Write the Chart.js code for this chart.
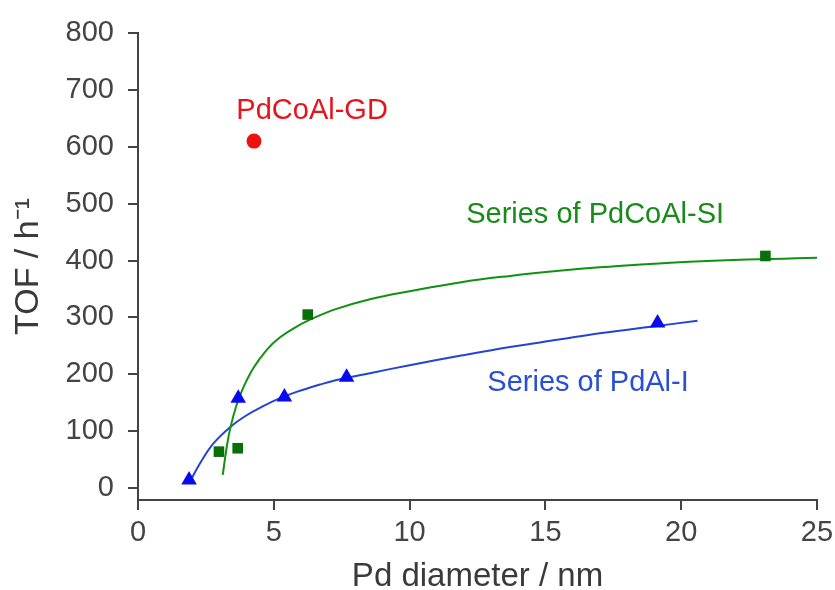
<!DOCTYPE html>
<html>
<head>
<meta charset="utf-8">
<title>TOF vs Pd diameter</title>
<script src="https://cdn.jsdelivr.net/npm/chart.js@4.4.1/dist/chart.umd.min.js"></script>
<style>
    body { margin: 0; background: #fff; }
    #wrap { width: 835px; height: 590px; }
</style>
</head>
<body>
<div id="wrap"><canvas id="chart" width="835" height="590"></canvas></div>
<script>
// measured points
const gdX = [4.27];
const gdY = [610];
const siX = [2.98, 3.67, 6.25, 23.1];
const siY = [64, 70, 305, 408];
const iX = [1.88, 3.69, 5.39, 7.68, 19.13];
const iY = [14, 158, 160, 195, 290];

// fitted curves
const siFitX = [3.12, 3.27, 3.41, 3.63, 3.88, 4.25, 4.74, 5.23, 5.84, 6.52, 7.31, 8.54, 10.0, 11.9, 13.7, 15.5, 17.0, 20.3, 25.0];
const siFitY = [23, 73, 108, 146, 177, 211, 243, 265, 284, 300, 315, 332, 346, 362, 373, 382, 388, 398, 405];
const iFitX = [1.91, 2.28, 2.77, 3.39, 4.0, 4.61, 5.23, 5.84, 6.70, 7.31, 8.54, 10.0, 11.9, 13.7, 15.5, 17.0, 19.1, 20.6];
const iFitY = [11, 43, 78, 107, 128, 144, 158, 169, 182, 190, 202, 216, 233, 248, 261, 272, 285, 294];

const xTicks = [0, 5, 10, 15, 20, 25];
const yTicks = [0, 100, 200, 300, 400, 500, 600, 700, 800];

const labelTexts = ['PdCoAl-GD', 'Series of PdCoAl-SI', 'Series of PdAl-I'];
const labelX = [6.41, 16.83, 16.57];
const labelY = [663, 480, 185];
const labelColors = ['#e8141c', '#1a8a1a', '#2a4fd4'];

const FONT = '"Liberation Sans", Arial, Helvetica, sans-serif';
const AXIS = '#444444';

function pts(xs, ys) {
    return xs.map((x, i) => ({ x: x, y: ys[i] }));
}

const textLabels = {
    id: 'textLabels',
    afterDatasetsDraw(chart) {
        const ctx = chart.ctx;
        const xs = chart.scales.x;
        const ys = chart.scales.y;
        ctx.save();
        ctx.font = '29px ' + FONT;
        ctx.textAlign = 'center';
        ctx.textBaseline = 'middle';
        labelTexts.forEach((t, i) => {
            ctx.fillStyle = labelColors[i];
            ctx.fillText(t, xs.getPixelForValue(labelX[i]), ys.getPixelForValue(labelY[i]));
        });
        ctx.restore();
    }
};

function init() {
    const ctx = document.getElementById('chart').getContext('2d');
    new Chart(ctx, {
        type: 'scatter',
        data: {
            datasets: [
                {
                    label: 'PdCoAl-GD',
                    data: pts(gdX, gdY),
                    pointStyle: 'circle',
                    pointRadius: 7.5,
                    backgroundColor: '#ee1111',
                    borderColor: '#ee1111',
                    borderWidth: 0
                },
                {
                    label: 'PdCoAl-SI',
                    data: pts(siX, siY),
                    pointStyle: 'rect',
                    pointRadius: 7.5,
                    backgroundColor: '#087008',
                    borderColor: '#087008',
                    borderWidth: 0
                },
                {
                    label: 'PdAl-I',
                    data: pts(iX, iY),
                    pointStyle: 'triangle',
                    pointRadius: 9,
                    backgroundColor: '#0a0af0',
                    borderColor: '#0a0af0',
                    borderWidth: 0
                },
                {
                    label: 'PdCoAl-SI fit',
                    data: pts(siFitX, siFitY),
                    showLine: true,
                    pointRadius: 0,
                    borderColor: '#119111',
                    borderWidth: 2,
                    tension: 0.4
                },
                {
                    label: 'PdAl-I fit',
                    data: pts(iFitX, iFitY),
                    showLine: true,
                    pointRadius: 0,
                    borderColor: '#2244d6',
                    borderWidth: 2,
                    tension: 0.4
                }
            ]
        },
        options: {
            responsive: false,
            animation: false,
            layout: { padding: { top: 33, right: 18, left: 0, bottom: 0 } },
            scales: {
                x: {
                    type: 'linear',
                    min: 0,
                    max: 25,
                    afterFit: (scale) => {
                        scale.height = 90;
                        scale.paddingLeft = 0;
                        scale.paddingRight = 0;
                    },
                    afterBuildTicks: (scale) => { scale.ticks = xTicks.map(v => ({ value: v })); },
                    grid: { drawOnChartArea: false, drawTicks: true, tickLength: 10, color: AXIS, lineWidth: 2 },
                    border: { display: true, color: AXIS, width: 2 },
                    ticks: { color: '#444', font: { family: FONT, size: 29 }, padding: 6, maxRotation: 0 },
                    title: {
                        display: true,
                        text: 'Pd diameter / nm',
                        color: '#3a3a3a',
                        font: { family: FONT, size: 33, lineHeight: 1 },
                        padding: { top: 0, bottom: -3 }
                    }
                },
                y: {
                    type: 'linear',
                    min: -21,
                    max: 800,
                    afterFit: (scale) => { scale.width = 138; },
                    afterBuildTicks: (scale) => { scale.ticks = yTicks.map(v => ({ value: v })); },
                    grid: { drawOnChartArea: false, drawTicks: true, tickLength: 10, color: AXIS, lineWidth: 2 },
                    border: { display: true, color: AXIS, width: 2 },
                    ticks: { color: '#444', font: { family: FONT, size: 29 }, padding: 14 },
                    title: {
                        display: true,
                        text: 'TOF / h\u207B\u00B9',
                        color: '#3a3a3a',
                        font: { family: FONT, size: 34, lineHeight: 1 },
                        padding: { top: 12, bottom: 0 }
                    }
                }
            },
            plugins: {
                legend: { display: false },
                tooltip: { enabled: false }
            }
        },
        plugins: [textLabels]
    });
}

init();
</script>
</body>
</html>
